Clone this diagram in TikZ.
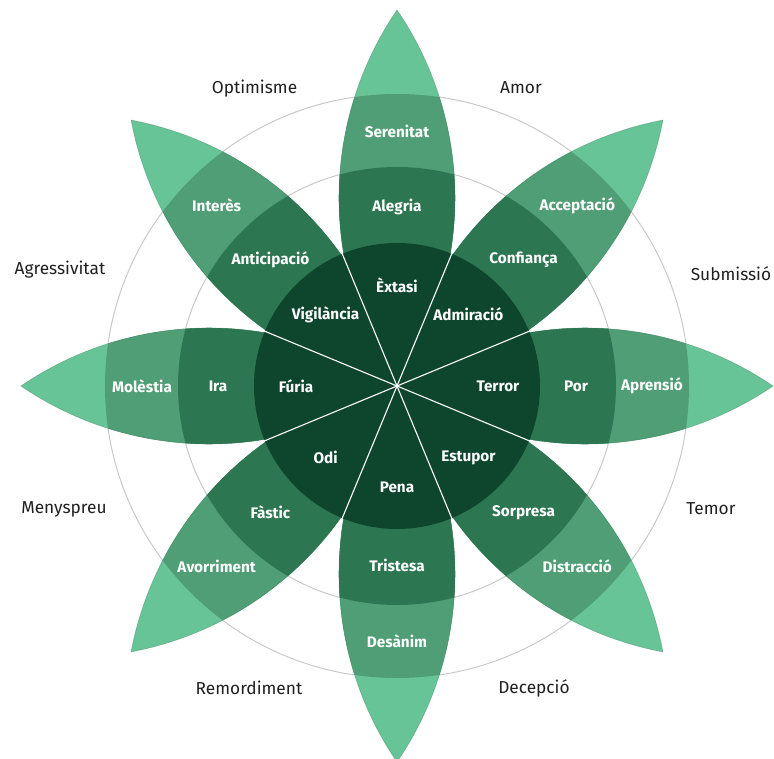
\documentclass[tikz,border=0pt]{standalone}
\usepackage{fontspec}
\setmainfont{Fira Sans}
\definecolor{cA}{HTML}{0E462D}
\definecolor{cB}{HTML}{2D7652}
\definecolor{cC}{HTML}{509E75}
\definecolor{cD}{HTML}{67C496}
\definecolor{ring}{HTML}{C9C9C9}
\tikzset{
  lbl/.style={font=\bfseries\fontsize{15.3}{18}\selectfont, text=white, inner sep=0pt},
  outer/.style={font=\fontsize{17.3}{20}\selectfont, text=black!88, anchor=base, inner sep=0pt},
  ringline/.style={draw=ring, line width=1pt},
  petaledge/.style={draw=cC!70!black, draw opacity=0.35, line width=0.6pt},
  divider/.style={draw=white, line width=1.1pt}
}
\newcommand{\petalpath}{(0,0) arc[start angle=124.3, end angle=55.7, radius=333.7] arc[start angle=-55.7, end angle=-124.3, radius=333.7] -- cycle}
\begin{document}
\begin{tikzpicture}[x=1pt,y=1pt]
\useasboundingbox (-397,-372) rectangle (377,386);
\coordinate (O) at (0,0);
\draw[ringline] (O) circle (219);
\draw[ringline] (O) circle (292);
\foreach \a in {0,45,...,315}{
  \begin{scope}[rotate=\a]
    \begin{scope}
      \clip \petalpath;
      \fill[cD] (O) circle (400);
      \fill[cC] (O) circle (292);
      \fill[cB] (O) circle (219);
    \end{scope}
    \path[petaledge] \petalpath;
  \end{scope}
}
\fill[cA] (O) circle (143);
\foreach \a in {22.5,67.5,...,337.5}{
  \draw[divider] (O) -- (\a:146);
}
% petal labels
\node[lbl] (l1) at (90:101) {Èxtasi};
\node[lbl] (l2) at (90:179) {Alegria};
\node[lbl] (l3) at (90:255) {Serenitat};
\node[lbl] (l4) at (45:101) {Admiració};
\node[lbl] (l5) at (45:179) {Confiança};
\node[lbl] (l6) at (45:255) {Acceptació};
\node[lbl] (l7) at (0:101) {Terror};
\node[lbl] (l8) at (0:179) {Por};
\node[lbl] (l9) at (0:255) {Aprensió};
\node[lbl] (l10) at (-45:101) {Estupor};
\node[lbl] (l11) at (-45:179) {Sorpresa};
\node[lbl] (l12) at (-45:255) {Distracció};
\node[lbl] (l13) at (-90:101) {Pena};
\node[lbl] (l14) at (-90:179) {Tristesa};
\node[lbl] (l15) at (-90:255) {Desànim};
\node[lbl] (l16) at (-135:101) {Odi};
\node[lbl] (l17) at (-135:179) {Fàstic};
\node[lbl] (l18) at (-135:255) {Avorriment};
\node[lbl] (l19) at (180:101) {Fúria};
\node[lbl] (l20) at (180:179) {Ira};
\node[lbl] (l21) at (180:255) {Molèstia};
\node[lbl] (l22) at (135:101) {Vigilància};
\node[lbl] (l23) at (135:179) {Anticipació};
\node[lbl] (l24) at (135:255) {Interès};
% outer labels
\node[outer] (o1) at (-142.5,292) {Optimisme};
\node[outer] (o2) at (124,292) {Amor};
\node[outer] (o3) at (334,106) {Submissió};
\node[outer] (o4) at (314,-128) {Temor};
\node[outer] (o5) at (137,-307) {Decepció};
\node[outer] (o6) at (-148,-308) {Remordiment};
\node[outer] (o7) at (-333,-127) {Menyspreu};
\node[outer] (o8) at (-337,112) {Agressivitat};
\end{tikzpicture}
\end{document}
